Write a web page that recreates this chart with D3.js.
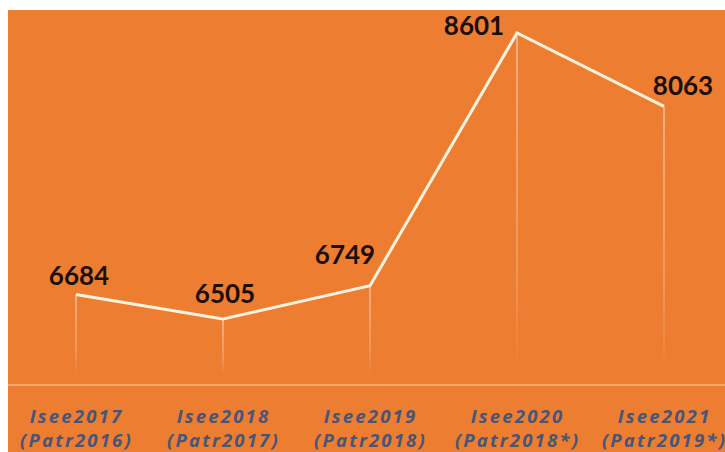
<!DOCTYPE html>
<html><head><meta charset="utf-8">
<script src="https://cdn.jsdelivr.net/npm/d3@7"></script>
<style>html,body{margin:0;padding:0;background:#fff;}svg{display:block;}</style>
</head><body>
<svg id="c" width="725" height="452"></svg>
<script>
const categories = ["Isee2017","Isee2018","Isee2019","Isee2020","Isee2021"];
const subLabels = ["(Patr2016)","(Patr2017)","(Patr2018)","(Patr2018*)","(Patr2019*)"];
const values = [6684, 6505, 6749, 8601, 8063];
// label offsets (styling)
const labelDx = [3, 2, -25, -43, 19];
const labelDy = [-10, -16, -22, 2, -11];

const svg = d3.select("#c");
const W = 725, H = 452;
svg.append("rect").attr("x",8).attr("y",10).attr("width",W-8).attr("height",H-10).attr("fill","#ED7D31");

const x = d3.scalePoint().domain(categories).range([76, 664]);
const y = d3.scaleLinear().domain([6505, 8601]).range([319, 33]);
const baseY = 385;

const defs = svg.append("defs");
const g = defs.append("linearGradient").attr("id","drop").attr("x1",0).attr("y1",0).attr("x2",0).attr("y2",1);
g.append("stop").attr("offset","0%").attr("stop-color","#ffffff").attr("stop-opacity",0.5);
g.append("stop").attr("offset","70%").attr("stop-color","#ffffff").attr("stop-opacity",0.25);
g.append("stop").attr("offset","100%").attr("stop-color","#ffffff").attr("stop-opacity",0);

// baseline
svg.append("line").attr("x1",8).attr("x2",W).attr("y1",baseY).attr("y2",baseY)
  .attr("stroke","#F8A66A").attr("stroke-width",2);

// drop lines
svg.selectAll("rect.drop").data(values).join("rect").attr("class","drop")
  .attr("x",(d,i)=>x(categories[i])-0.75).attr("width",1.5)
  .attr("y",d=>y(d)).attr("height",d=>375-y(d))
  .attr("fill","url(#drop)");

// line
const line = d3.line().x((d,i)=>x(categories[i])).y(d=>y(d));
svg.append("path").datum(values).attr("d",line).attr("fill","none")
  .attr("stroke","#FFF3DF").attr("stroke-width",3).attr("stroke-linejoin","miter");

// value labels
svg.selectAll("text.val").data(values).join("text").attr("class","val")
  .attr("x",(d,i)=>x(categories[i])+labelDx[i]).attr("y",(d,i)=>y(d)+labelDy[i])
  .attr("text-anchor","middle").attr("font-family","Lato, 'Open Sans', sans-serif")
  .attr("font-weight","bold").attr("font-size",26).attr("fill","#1a0e08").text(d=>d);

// axis
const axis = d3.axisBottom(x).tickSize(0).tickPadding(0);
const ax = svg.append("g").attr("transform",`translate(0,${baseY})`).call(axis);
ax.select(".domain").remove();
ax.selectAll(".tick text").each(function(d,i){
  const t = d3.select(this);
  t.text(null).attr("y",0).attr("dy",null)
   .attr("font-family","'Open Sans', sans-serif").attr("font-style","italic").attr("font-weight","bold")
   .attr("font-size",18.5).attr("fill","#45567A").attr("letter-spacing",2.2);
  t.append("tspan").attr("x",0).attr("y",38).text(d);
  t.append("tspan").attr("x",0).attr("y",62).text(subLabels[i]);
});
</script>
</body></html>
